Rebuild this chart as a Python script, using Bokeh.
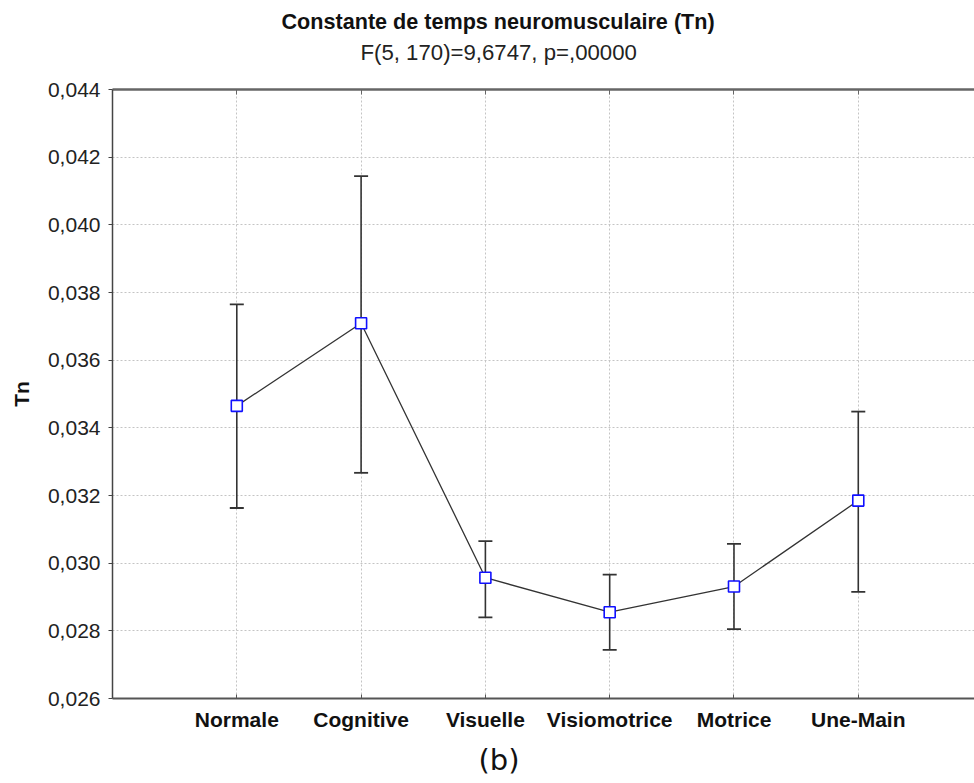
from bokeh.plotting import figure
from bokeh.models import (ColumnDataSource, Whisker, TeeHead, FixedTicker, LinearAxis,
                          CustomJSTickFormatter, Title, Range1d, Grid)
from bokeh.embed import file_html
from bokeh.resources import INLINE

# ---- data ----
categories = ["Normale", "Cognitive", "Visuelle", "Visiomotrice", "Motrice", "Une-Main"]
means = [0.03465, 0.03709, 0.02957, 0.02855, 0.02931, 0.03185]
upper = [0.03765, 0.04144, 0.03065, 0.02966, 0.03057, 0.03448]
lower = [0.03163, 0.03267, 0.02840, 0.02744, 0.02805, 0.02915]
y_ticks = [0.026, 0.028, 0.030, 0.032, 0.034, 0.036, 0.038, 0.040, 0.042, 0.044]
title_text = "Constante de temps neuromusculaire (Tn)"
subtitle_text = "F(5, 170)=9,6747, p=,00000"
y_label = "Tn"
panel_label = "(b)"

xs = list(range(1, len(categories) + 1))
src = ColumnDataSource(dict(x=xs, mean=means, upper=upper, lower=lower))

FONT = "Liberation Sans"

p = figure(width=974, height=783, output_backend="svg", toolbar_location=None,
           x_range=Range1d(0, 6.935), y_range=Range1d(0.026, 0.044),
           min_border_left=112, min_border_top=89, min_border_bottom=85, min_border_right=0,
           x_axis_type=None, y_axis_type=None, title=None)
p.outline_line_color = None
p.background_fill_color = "white"
p.border_fill_color = "white"

# left axis
yaxis = LinearAxis(ticker=FixedTicker(ticks=y_ticks),
                   formatter=CustomJSTickFormatter(code="return tick.toFixed(3).replace('.', ',');"))
yaxis.axis_label = y_label
yaxis.axis_label_text_font = FONT
yaxis.axis_label_text_font_style = "bold"
yaxis.axis_label_text_font_size = "21px"
yaxis.axis_label_text_color = "#111111"
yaxis.axis_label_standoff = 12
yaxis.major_label_text_font = FONT
yaxis.major_label_text_font_size = "21px"
yaxis.major_label_text_color = "#222222"
yaxis.major_label_standoff = 8
yaxis.major_tick_out = 4
yaxis.major_tick_in = 0
yaxis.minor_tick_out = 0
yaxis.minor_tick_in = 0
yaxis.axis_line_color = "#444444"
yaxis.axis_line_width = 1.5
yaxis.major_tick_line_color = "#444444"
p.add_layout(yaxis, "left")

# bottom axis
xaxis = LinearAxis(ticker=FixedTicker(ticks=xs),
                   major_label_overrides={i + 1: c for i, c in enumerate(categories)})
xaxis.major_label_text_font = FONT
xaxis.major_label_text_font_size = "21px"
xaxis.major_label_text_font_style = "bold"
xaxis.major_label_text_color = "#111111"
xaxis.major_label_standoff = 9
xaxis.major_tick_out = 0
xaxis.major_tick_in = 4
xaxis.minor_tick_out = 0
xaxis.minor_tick_in = 0
xaxis.axis_line_color = "#555555"
xaxis.axis_line_width = 2
xaxis.major_tick_line_color = "#555555"
p.add_layout(xaxis, "below")

# top axis (frame border)
taxis = LinearAxis(ticker=FixedTicker(ticks=xs),
                   major_label_overrides={i + 1: "" for i in range(len(categories))})
taxis.major_label_text_font_size = "1px"
taxis.major_label_standoff = 0
taxis.major_tick_out = 0
taxis.major_tick_in = 5
taxis.minor_tick_out = 0
taxis.minor_tick_in = 0
taxis.axis_line_color = "#666666"
taxis.axis_line_width = 2.5
taxis.major_tick_line_color = "#666666"
p.add_layout(taxis, "above")

# invisible spacer axis between frame and subtitle
spacer = LinearAxis(ticker=FixedTicker(ticks=xs),
                    major_label_overrides={i + 1: "" for i in range(len(categories))})
spacer.major_label_text_font_size = "1px"
spacer.major_label_standoff = 0
spacer.major_tick_out = 24
spacer.major_tick_in = 0
spacer.minor_tick_out = 0
spacer.minor_tick_in = 0
spacer.axis_line_color = None
spacer.major_tick_line_color = None
spacer.minor_tick_line_color = None
p.add_layout(spacer, "above")

# grids
p.add_layout(Grid(dimension=0, ticker=FixedTicker(ticks=xs), grid_line_color="#c4c4c4",
                  grid_line_dash="2 2", grid_line_width=1))
p.add_layout(Grid(dimension=1, ticker=FixedTicker(ticks=y_ticks), grid_line_color="#c4c4c4",
                  grid_line_dash="2 2", grid_line_width=1))

# error bars
wh = Whisker(source=src, base="x", upper="upper", lower="lower",
             line_color="#333333", line_width=1.6,
             upper_head=TeeHead(size=14, line_color="#333333", line_width=1.8),
             lower_head=TeeHead(size=14, line_color="#333333", line_width=1.8))
p.add_layout(wh)

# mean line + markers
p.line("x", "mean", source=src, line_color="#333333", line_width=1.3)
p.scatter("x", "mean", source=src, marker="square", size=11, fill_color="white",
          line_color="#1010ff", line_width=1.6)

# titles (innermost first)
p.add_layout(Title(text=subtitle_text, align="left", offset=248, text_font=FONT,
                   text_font_size="22.2px", text_font_style="normal", text_color="#222222",
                   standoff=2), "above")
p.add_layout(Title(text=title_text, align="left", offset=169, text_font=FONT,
                   text_font_size="21.6px", text_font_style="bold", text_color="#111111",
                   standoff=5), "above")
p.add_layout(Title(text=panel_label, align="left", offset=366, text_font="DejaVu Sans",
                   text_font_size="29px", text_font_style="normal", text_color="#111111",
                   standoff=14), "below")

open("out.html", "w").write(file_html(p, INLINE))
